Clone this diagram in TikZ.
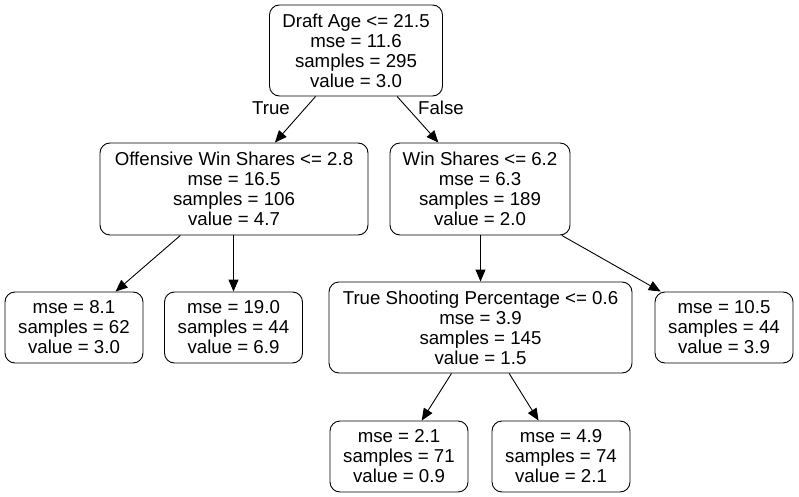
\documentclass[tikz,border=0pt]{standalone}
\usepackage{fontspec}
\setmainfont{Liberation Sans}
\usetikzlibrary{arrows.meta}

\begin{document}
\begin{tikzpicture}[x=1pt,y=1pt,
  font=\fontsize{18.67pt}{20pt}\selectfont,
  split/.style={draw,rounded corners=10pt,align=center,line width=0.9pt,minimum height=91pt,inner sep=0pt},
  leaf/.style={split,minimum height=71pt,minimum width=138pt},
  edge/.style={-{Triangle[length=12pt,width=10pt]},line width=0.9pt}]
\useasboundingbox (0,0) rectangle (799,-497);
% split nodes
\node[split,minimum width=173pt] (root) at (356,-50.5) {Draft Age <= 21.5\\mse = 11.6\\samples = 295\\value = 3.0};
\node[split,minimum width=268pt,minimum height=92pt] (ows) at (234,-189) {Offensive Win Shares <= 2.8\\mse = 16.5\\samples = 106\\value = 4.7};
\node[split,minimum width=180pt,minimum height=92pt] (ws) at (480,-189) {Win Shares <= 6.2\\mse = 6.3\\samples = 189\\value = 2.0};
\node[split,minimum width=303pt] (tsp) at (480.5,-327.5) {True Shooting Percentage <= 0.6\\mse = 3.9\\samples = 145\\value = 1.5};
% leaves
\node[leaf] (leafa) at (74,-327.5) {mse = 8.1\\samples = 62\\value = 3.0};
\node[leaf] (leafb) at (233.5,-327.5) {mse = 19.0\\samples = 44\\value = 6.9};
\node[leaf] (leafc) at (724,-327.5) {mse = 10.5\\samples = 44\\value = 3.9};
\node[leaf] (leafd) at (399,-456.5) {mse = 2.1\\samples = 71\\value = 0.9};
\node[leaf] (leafe) at (561,-456.5) {mse = 4.9\\samples = 74\\value = 2.1};
% edges
\draw[edge] (root) -- (ows);
\draw[edge] (root) -- (ws);
\draw[edge] (ows) -- (leafa);
\draw[edge] (ows.south -| leafb) -- (leafb);
\draw[edge] (ws.south -| tsp) -- (tsp);
\draw[edge] (ws) -- (leafc);
\draw[edge] (tsp) -- (leafd);
\draw[edge] (tsp) -- (leafe);
\node (truelbl) at (271,-108) {True};
\node (falselbl) at (441,-108) {False};
\end{tikzpicture}
\end{document}
